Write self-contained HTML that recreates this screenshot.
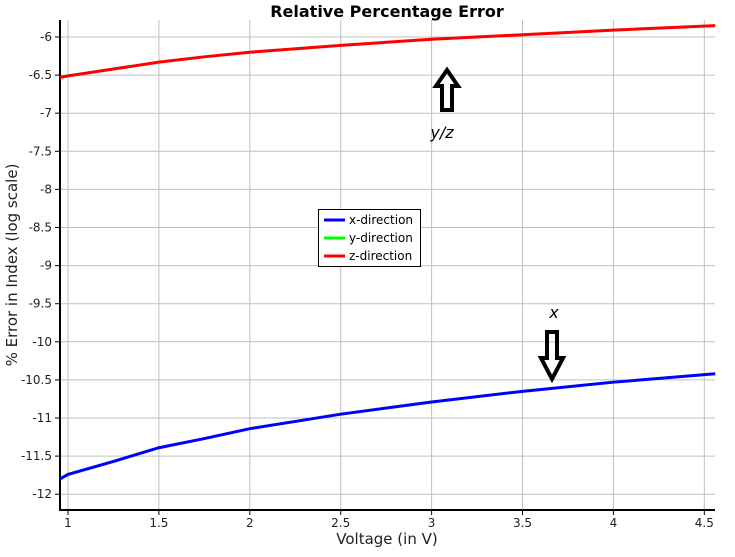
<!DOCTYPE html>
<html><head><meta charset="utf-8"><style>
body{margin:0;background:#fff;font-family:"DejaVu Sans","Liberation Sans",sans-serif}
svg text{font-family:"DejaVu Sans","Liberation Sans",sans-serif}
</style></head><body>
<svg id="chart" width="735" height="553">
<text x="387" y="17" text-anchor="middle" font-size="16" font-weight="bold">Relative Percentage Error</text>
<g id="grid"></g><g id="axes"></g><g id="series"></g>
<text x="387" y="544" text-anchor="middle" font-size="15" fill="#222">Voltage (in V)</text>
<text transform="translate(17,265) rotate(-90)" text-anchor="middle" font-size="15" fill="#222">% Error in Index (log scale)</text>
<g>
<rect x="318.5" y="209.5" width="102" height="57" fill="#fff" stroke="#000"/>
<line x1="324" y1="220" x2="345" y2="220" stroke="#0000ff" stroke-width="3"/><text x="349" y="224" font-size="12">x-direction</text>
<line x1="324" y1="238" x2="345" y2="238" stroke="#00ff00" stroke-width="3"/><text x="349" y="242" font-size="12">y-direction</text>
<line x1="324" y1="256" x2="345" y2="256" stroke="#ff0000" stroke-width="3"/><text x="349" y="260" font-size="12">z-direction</text>
</g>
<path d="M447,70 L458,86 L452,86 L452,110 L442,110 L442,86 L436,86 Z" fill="none" stroke="#000" stroke-width="4"/>
<text x="442" y="138" text-anchor="middle" font-size="16" font-style="italic">y/z</text>
<path d="M552,379 L541,358 L547,358 L547,332 L557,332 L557,358 L563,358 Z" fill="none" stroke="#000" stroke-width="4"/>
<text x="554" y="318" text-anchor="middle" font-size="16" font-style="italic">x</text>
</svg>
<script>
const xValues=[0.956,1,1.25,1.5,1.75,2,2.5,3,3.5,4,4.56];
const zValues=[-6.53,-6.51,-6.42,-6.33,-6.26,-6.2,-6.11,-6.03,-5.97,-5.91,-5.85];
const xDirValues=[-11.8,-11.74,-11.57,-11.39,-11.27,-11.14,-10.95,-10.79,-10.65,-10.53,-10.42];
const xTicks=[1,1.5,2,2.5,3,3.5,4,4.5];
const yTicks=[-6,-6.5,-7,-7.5,-8,-8.5,-9,-9.5,-10,-10.5,-11,-11.5,-12];
const L=60,R=715,T=20,B=510;
const sx=v=>68+(v-1)*181.8;
const sy=v=>37+(-6-v)*76.2;
const NS="http://www.w3.org/2000/svg";
function mk(tag,attrs,parent){const e=document.createElementNS(NS,tag);for(const k in attrs)e.setAttribute(k,attrs[k]);parent.appendChild(e);return e;}
const grid=document.getElementById('grid'),axes=document.getElementById('axes'),series=document.getElementById('series');
xTicks.forEach(t=>{const x=sx(t);
const g=mk('line',{x1:x,x2:x,y1:T,y2:B,stroke:'#c0c0c0'},grid);


mk('line',{x1:x,x2:x,y1:B,y2:B+5,stroke:'#000'},axes);
const tx=mk('text',{x:x,y:B+17,'text-anchor':'middle','font-size':'12',fill:'#222'},axes);tx.textContent=t;

});
yTicks.forEach(t=>{const y=sy(t);
const g=mk('line',{x1:L,x2:R,y1:y,y2:y,stroke:'#c0c0c0'},grid);


mk('line',{x1:L-5,x2:L,y1:y,y2:y,stroke:'#000'},axes);
const tx=mk('text',{x:L-8,y:y+4,'text-anchor':'end','font-size':'12',fill:'#222'},axes);tx.textContent=t;

});
const ax=mk('path',{d:`M${L},${T} V${B} H${R}`,fill:'none',stroke:'#000','stroke-width':2},axes);


function line(vals,color,name){const d=vals.map((v,i)=>(i?'L':'M')+sx(xValues[i])+','+sy(v)).join(' ');
const p=mk('path',{d:d,fill:'none',stroke:color,'stroke-width':3},series);

}
line(xDirValues,'#0000ff','x-direction-line');
line(zValues,'#ff0000','z-direction-line');
</script>
</body></html>
